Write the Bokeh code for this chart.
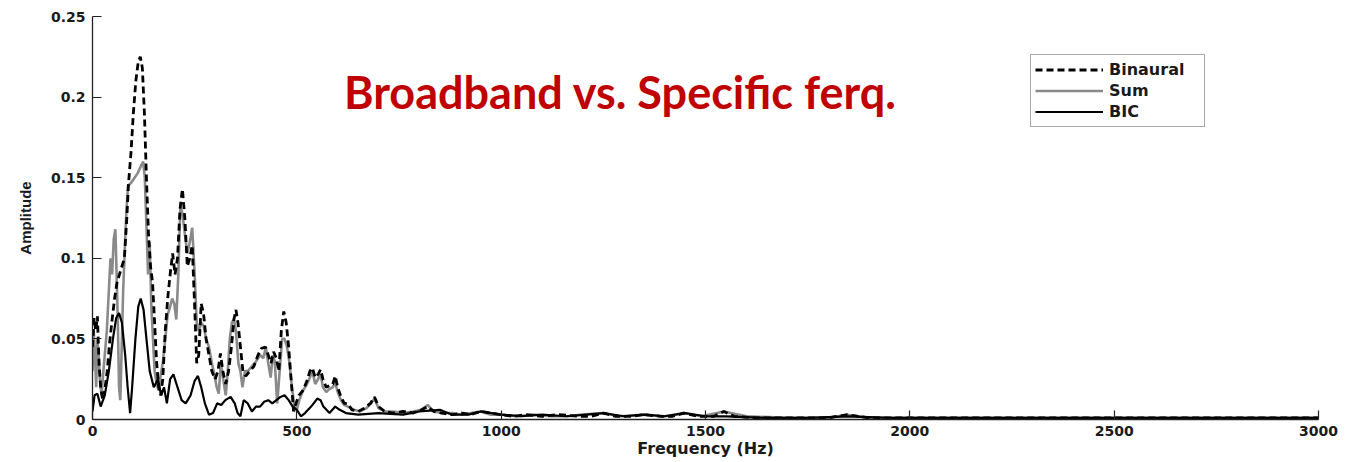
from bokeh.plotting import figure
from bokeh.models import Range1d, FixedTicker, Label, Legend, LegendItem
from bokeh.embed import file_html
from bokeh.resources import INLINE

# ---------------- data ----------------
binaural_f = [0, 4, 8, 12, 16, 20, 25, 30, 36, 42, 48, 54, 60, 66, 72, 78, 84, 88, 94, 100,
              106, 112, 117, 122, 127, 132, 137, 142, 147, 152, 157, 162, 167, 172, 178, 184,
              190, 196, 202, 208, 214, 220, 226, 232, 238, 244, 250, 255, 260, 266, 272, 278,
              285, 292, 300, 307, 313, 319, 326, 333, 340, 346, 351, 356, 362, 368, 375, 385,
              395, 405, 413, 423, 430, 437, 443, 450, 456, 462, 468, 474, 480, 486, 492, 498,
              505, 515, 525, 532, 538, 545, 552, 558, 564, 572, 580, 588, 594, 600, 608, 616,
              624, 635, 650, 665, 680, 690, 700, 715, 735, 760, 785, 805, 820, 835, 855, 880,
              905, 925, 950, 975, 1000, 1030, 1060, 1100, 1140, 1190, 1220, 1250, 1280, 1320,
              1350, 1390, 1420, 1447, 1480, 1520, 1545, 1570, 1620, 1700, 1800, 1847, 1900,
              2000, 2100, 2200, 2300, 2400, 2500, 2600, 2700, 2800, 2900, 3000]
binaural_a = [0.045, 0.063, 0.055, 0.064, 0.035, 0.020, 0.012, 0.018, 0.030, 0.048, 0.062,
              0.075, 0.085, 0.090, 0.095, 0.100, 0.125, 0.146, 0.165, 0.190, 0.210, 0.222,
              0.225, 0.218, 0.190, 0.150, 0.115, 0.095, 0.085, 0.060, 0.035, 0.020, 0.015,
              0.025, 0.055, 0.075, 0.090, 0.103, 0.090, 0.100, 0.130, 0.143, 0.125, 0.095,
              0.100, 0.108, 0.070, 0.035, 0.040, 0.072, 0.065, 0.050, 0.040, 0.030, 0.025,
              0.030, 0.041, 0.030, 0.022, 0.030, 0.045, 0.062, 0.068, 0.060, 0.045, 0.030,
              0.027, 0.030, 0.033, 0.040, 0.044, 0.045, 0.040, 0.035, 0.042, 0.038, 0.030,
              0.055, 0.067, 0.060, 0.045, 0.025, 0.005, 0.010, 0.015, 0.018, 0.024, 0.030,
              0.032, 0.026, 0.028, 0.031, 0.025, 0.020, 0.021, 0.022, 0.027, 0.020, 0.014,
              0.010, 0.010, 0.006, 0.005, 0.007, 0.010, 0.014, 0.008, 0.005, 0.004, 0.005,
              0.004, 0.006, 0.008, 0.005, 0.004, 0.003, 0.004, 0.003, 0.005, 0.004, 0.003,
              0.002, 0.003, 0.002, 0.003, 0.002, 0.002, 0.004, 0.002, 0.002, 0.003, 0.002,
              0.002, 0.004, 0.002, 0.002, 0.005, 0.002, 0.001, 0.001, 0.001, 0.003, 0.001,
              0.001, 0.001, 0.001, 0.001, 0.001, 0.001, 0.001, 0.001, 0.001, 0.001, 0.001]

sum_f = [0, 3, 6, 9, 12, 15, 18, 22, 26, 30, 35, 40, 44, 48, 52, 56, 59, 62, 65, 68, 71, 75,
         79, 83, 87, 95, 103, 111, 118, 124, 128, 132, 136, 140, 144, 148, 152, 157, 162, 167,
         172, 178, 184, 190, 195, 200, 205, 210, 215, 220, 226, 232, 238, 244, 250, 255, 260,
         266, 272, 278, 285, 292, 298, 304, 309, 314, 320, 326, 331, 336, 341, 346, 351, 357,
         362, 367, 373, 380, 390, 400, 410, 418, 424, 430, 436, 441, 446, 452, 458, 464, 470,
         476, 482, 488, 494, 500, 506, 515, 525, 532, 538, 545, 552, 558, 564, 572, 580, 588,
         594, 600, 608, 616, 625, 640, 655, 670, 682, 690, 700, 715, 735, 760, 785, 805, 820,
         835, 855, 880, 905, 925, 950, 975, 1000, 1040, 1080, 1120, 1160, 1200, 1250, 1290,
         1350, 1400, 1447, 1490, 1545, 1600, 1700, 1800, 1847, 1900, 2000, 2200, 2400, 2600,
         2800, 3000]
sum_a = [0.030, 0.055, 0.040, 0.020, 0.050, 0.040, 0.025, 0.015, 0.028, 0.040, 0.055, 0.080,
         0.100, 0.090, 0.112, 0.118, 0.090, 0.060, 0.020, 0.012, 0.040, 0.080, 0.105, 0.130,
         0.145, 0.147, 0.150, 0.153, 0.157, 0.160, 0.150, 0.120, 0.090, 0.110, 0.070, 0.050,
         0.030, 0.022, 0.018, 0.028, 0.035, 0.050, 0.065, 0.070, 0.075, 0.072, 0.062, 0.090,
         0.132, 0.128, 0.115, 0.103, 0.110, 0.119, 0.090, 0.060, 0.055, 0.060, 0.058, 0.050,
         0.045, 0.035, 0.028, 0.020, 0.016, 0.035, 0.025, 0.015, 0.030, 0.050, 0.060, 0.062,
         0.055, 0.035, 0.030, 0.020, 0.030, 0.030, 0.033, 0.036, 0.040, 0.038, 0.045, 0.035,
         0.026, 0.040, 0.036, 0.010, 0.030, 0.050, 0.050, 0.045, 0.035, 0.020, 0.008, 0.006,
         0.012, 0.018, 0.022, 0.026, 0.030, 0.022, 0.025, 0.028, 0.020, 0.017, 0.019, 0.020,
         0.023, 0.017, 0.012, 0.009, 0.008, 0.006, 0.005, 0.007, 0.010, 0.013, 0.007, 0.005,
         0.005, 0.004, 0.005, 0.006, 0.009, 0.005, 0.004, 0.004, 0.003, 0.004, 0.005, 0.003,
         0.003, 0.002, 0.003, 0.002, 0.002, 0.003, 0.004, 0.002, 0.003, 0.002, 0.004, 0.002,
         0.005, 0.002, 0.001, 0.001, 0.003, 0.001, 0.001, 0.001, 0.001, 0.001, 0.001, 0.001]

bic_f = [0, 5, 12, 20, 30, 40, 50, 58, 65, 72, 80, 86, 92, 97, 105, 112, 118, 125, 132, 140,
         150, 160, 168, 175, 182, 190, 198, 208, 218, 228, 240, 250, 258, 266, 275, 285, 295,
         305, 315, 325, 338, 348, 355, 362, 370, 380, 390, 400, 410, 420, 430, 440, 450, 460,
         470, 480, 490, 500, 510, 520, 535, 550, 558, 565, 580, 594, 605, 620, 650, 700, 760,
         800, 850, 880, 920, 950, 1000, 1050, 1100, 1160, 1250, 1300, 1350, 1400, 1450, 1500,
         1550, 1650, 1750, 1850, 1950, 2100, 2300, 2500, 2700, 2900, 3000]
bic_a = [0.005, 0.015, 0.016, 0.008, 0.015, 0.030, 0.050, 0.063, 0.066, 0.060, 0.040, 0.020,
         0.004, 0.020, 0.050, 0.070, 0.075, 0.068, 0.050, 0.030, 0.020, 0.025, 0.015, 0.020,
         0.010, 0.025, 0.028, 0.020, 0.012, 0.010, 0.015, 0.024, 0.027, 0.020, 0.010, 0.003,
         0.004, 0.010, 0.009, 0.012, 0.014, 0.010, 0.004, 0.002, 0.012, 0.010, 0.005, 0.008,
         0.008, 0.011, 0.012, 0.010, 0.012, 0.014, 0.015, 0.012, 0.008, 0.006, 0.002, 0.004,
         0.008, 0.013, 0.012, 0.008, 0.004, 0.008, 0.006, 0.004, 0.003, 0.004, 0.003, 0.005,
         0.006, 0.003, 0.003, 0.005, 0.003, 0.002, 0.003, 0.002, 0.004, 0.002, 0.003, 0.002,
         0.004, 0.002, 0.002, 0.001, 0.001, 0.002, 0.001, 0.001, 0.001, 0.001, 0.001, 0.001,
         0.001]

x_ticks = [0, 500, 1000, 1500, 2000, 2500, 3000]
x_tick_labels = ["0", "500", "1000", "1500", "2000", "2500", "3000"]
y_ticks = [0, 0.05, 0.1, 0.15, 0.2, 0.25]
y_tick_labels = ["0", "0.05", "0.1", "0.15", "0.2", "0.25"]
series_names = ["Binaural", "Sum", "BIC"]
title_text = "Broadband vs. Specific ferq."
x_label = "Frequency (Hz)"
y_label = "Amplitude"

# ---------------- figure ----------------
p = figure(width=1345, height=462, output_backend="svg", toolbar_location=None,
           x_range=Range1d(0, 3000), y_range=Range1d(0, 0.25),
           min_border_left=92, min_border_right=27, min_border_top=16, min_border_bottom=43)
p.outline_line_color = None
p.grid.grid_line_color = None
p.background_fill_color = "white"
p.border_fill_color = "white"

tick_font = "DejaVu Sans"
for ax, ticks, labels in ((p.xaxis[0], x_ticks, x_tick_labels), (p.yaxis[0], y_ticks, y_tick_labels)):
    ax.ticker = FixedTicker(ticks=ticks)
    ax.major_label_overrides = {t: l for t, l in zip(ticks, labels)}
    ax.minor_tick_line_color = None
    ax.major_tick_in = 9
    ax.major_tick_out = 0
    ax.axis_line_color = "#222222"
    ax.axis_line_width = 1.3
    ax.major_tick_line_color = "#222222"
    ax.major_tick_line_width = 1.2
    ax.major_label_text_font = tick_font
    ax.major_label_text_font_style = "bold"
    ax.major_label_text_font_size = "14px"
    ax.major_label_text_color = "#1a1a1a"

p.xaxis.axis_label = x_label
p.xaxis.axis_label_text_font = tick_font
p.xaxis.axis_label_text_font_style = "bold"
p.xaxis.axis_label_text_font_size = "16px"
p.xaxis.axis_label_text_color = "#1a1a1a"
p.xaxis.major_label_standoff = 6
p.xaxis.axis_label_standoff = 0

p.yaxis.axis_label = y_label
p.yaxis.axis_label_text_font = "Liberation Sans"
p.yaxis.axis_label_text_font_style = "bold"
p.yaxis.axis_label_text_font_size = "15px"
p.yaxis.axis_label_text_color = "#1a1a1a"
p.yaxis.major_label_standoff = 7
p.yaxis.axis_label_standoff = 14

r_sum = p.line(sum_f, sum_a, line_color="#8a8a8a", line_width=2.6)
r_bin = p.line(binaural_f, binaural_a, line_color="black", line_width=2.8, line_dash="7 4")
r_bic = p.line(bic_f, bic_a, line_color="black", line_width=2.2)

legend = Legend(items=[LegendItem(label=series_names[0], renderers=[r_bin]),
                       LegendItem(label=series_names[1], renderers=[r_sum]),
                       LegendItem(label=series_names[2], renderers=[r_bic])],
                location=(938, 292), orientation="vertical",
                glyph_width=68, glyph_height=21, label_height=21, label_width=91,
                spacing=0, padding=4, margin=0, label_standoff=6,
                label_text_font=tick_font, label_text_font_style="bold",
                label_text_font_size="16px", label_text_color="#1a1a1a",
                border_line_color="#555555", border_line_width=1.5,
                background_fill_color="white", background_fill_alpha=1.0)
p.add_layout(legend)

title = Label(x=1292, y=0.2029, text=title_text, text_align="center", text_baseline="middle",
              text_font="Lato", text_font_style="bold", text_font_size="45px",
              text_color="#C00000")
p.add_layout(title)

open("out.html", "w").write(file_html(p, INLINE))
